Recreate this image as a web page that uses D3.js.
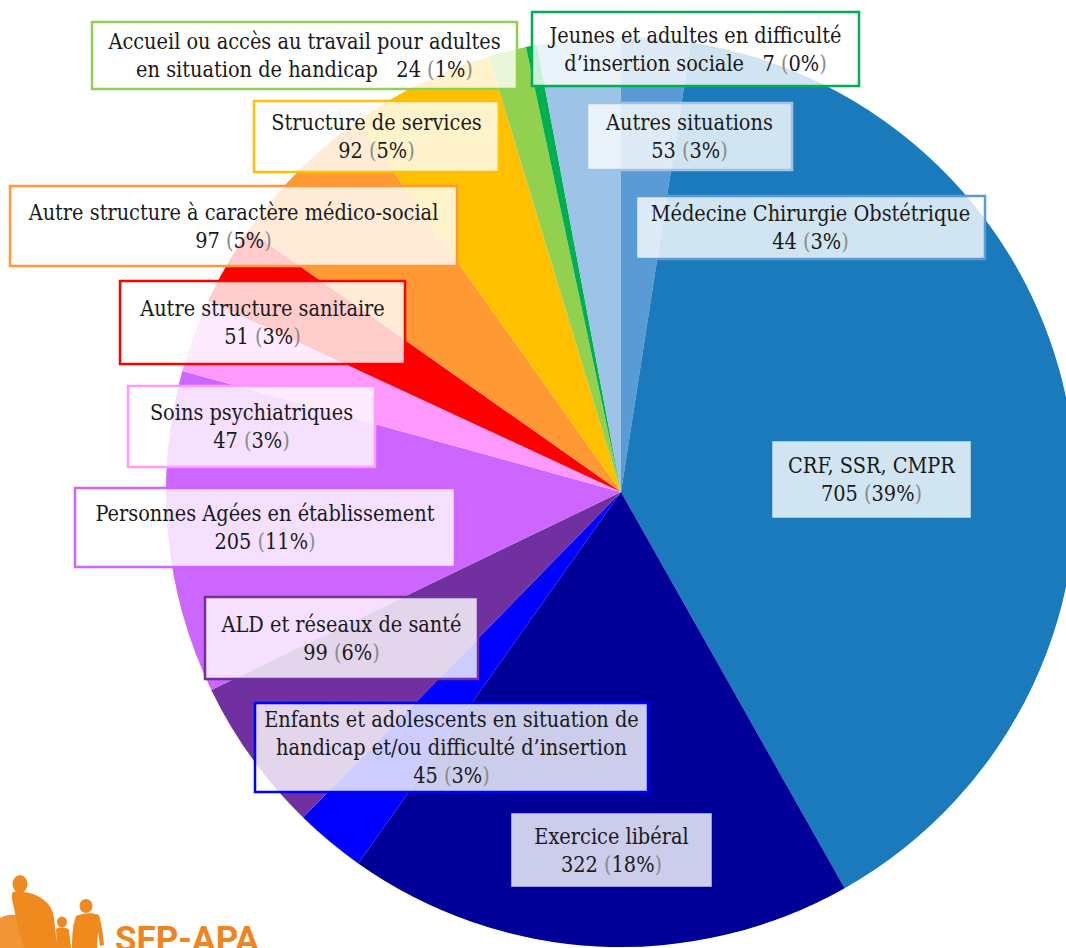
<!DOCTYPE html>
<html>
<head>
<meta charset="utf-8">
<script src="https://cdn.jsdelivr.net/npm/d3@7"></script>
<style>
  html, body { margin: 0; padding: 0; background: #fff; }
  svg { display: block; }
  text { white-space: pre; }
</style>
</head>
<body>
<script>
// ---------- data ----------
const categories = [
  "Médecine Chirurgie Obstétrique",
  "CRF, SSR, CMPR",
  "Exercice libéral",
  "Enfants et adolescents en situation de\nhandicap et/ou difficulté d’insertion",
  "ALD et réseaux de santé",
  "Personnes Agées en établissement",
  "Soins psychiatriques",
  "Autre structure sanitaire",
  "Autre structure à caractère médico-social",
  "Structure de services",
  "Accueil ou accès au travail pour adultes\nen situation de handicap",
  "Jeunes et adultes en difficulté\nd’insertion sociale",
  "Autres situations"
];
const values   = [44, 705, 322, 45, 99, 205, 47, 51, 97, 92, 24, 7, 53];
const percents = [3, 39, 18, 3, 6, 11, 3, 3, 5, 5, 1, 0, 3];
// labels whose value sits on the last text line
const inlineValue = [false, false, false, false, false, false, false, false, false, false, true, true, false];

// ---------- styles / layout ----------
const colors = ["#5B9BD5", "#1A7ABB", "#000099", "#0000FF", "#7030A0", "#CC66FF",
                "#FF99FF", "#FF0000", "#FF9933", "#FFC000", "#92D050", "#00B050", "#9DC3E6"];
// label boxes [x0, y0, x1, y1]
const labelBoxes = [
  [636, 196, 985, 259],
  [771, 440, 972, 519],
  [510, 812, 713, 888],
  [255, 703, 648, 792],
  [205, 597, 478, 679],
  [75, 488, 455, 567],
  [128, 386, 375, 467],
  [120, 281, 405, 364],
  [10, 186, 457, 266],
  [254, 101, 499, 172],
  [92, 22, 517, 89],
  [532, 12, 859, 86],
  [587, 103, 792, 170]
];

const W = 1066, H = 948;
const cx = 621, cy = 492, R = 455;
const lineH = 28;

const svg = d3.select("body").append("svg").attr("width", W).attr("height", H);

// ---------- pie ----------
const pie = d3.pie().sort(null).value(d => d.value).startAngle(0).endAngle(2 * Math.PI);
const arc = d3.arc().innerRadius(0).outerRadius(R);
const data = categories.map((c, i) => ({ name: c, value: values[i], pct: percents[i], color: colors[i], box: labelBoxes[i], inline: inlineValue[i] }));

const g = svg.append("g").attr("transform", `translate(${cx},${cy})`);
g.selectAll("path.slice").data(pie(data)).join("path")
  .attr("class", "slice")
  .attr("d", arc)
  .attr("fill", d => d.data.color);

// ---------- logo (SFP-APA) ----------
const logo = svg.append("g").attr("fill", "#EF8A1F");
logo.append("path").attr("d", "M0,918 C10,912 22,914 34,924 C42,931 48,940 50,948 L0,948 Z").attr("opacity", 0.9);
logo.append("ellipse").attr("cx", 20).attr("cy", 884).attr("rx", 7.5).attr("ry", 9);
logo.append("path").attr("d", "M13,892 C18,890 26,892 33,894 C44,898 53,906 54,918 C55,928 56,938 58,948 L24,948 C20,935 16,920 14,908 C12,900 11,895 13,892 Z");
logo.append("ellipse").attr("cx", 62).attr("cy", 922).attr("rx", 5).attr("ry", 5.5);
logo.append("path").attr("d", "M56,929 C60,927 65,927 69,930 L71,948 L57,948 Z");
logo.append("ellipse").attr("cx", 86).attr("cy", 906).attr("rx", 6.5).attr("ry", 7);
logo.append("path").attr("d", "M76,916 C82,913 92,912 99,915 C102,925 103,935 104,945 L100,946 L98,932 L97,948 L72,948 C72,935 73,924 76,916 Z");
svg.append("text").attr("x", 115).attr("y", 951)
  .attr("font-family", "Roboto, 'Open Sans', sans-serif").attr("font-weight", 700)
  .attr("font-size", 35).attr("fill", "#EE8520").text("SFP-APA");

// ---------- labels ----------
const labels = svg.append("g").attr("class", "labels");
const lab = labels.selectAll("g.label").data(data).join("g").attr("class", "label");

lab.append("rect")
  .attr("x", d => d.box[0]).attr("y", d => d.box[1])
  .attr("width", d => d.box[2] - d.box[0]).attr("height", d => d.box[3] - d.box[1])
  .attr("fill", "#fff").attr("fill-opacity", 0.8)
  .attr("stroke", d => d.color).attr("stroke-width", 2.5);

lab.each(function(d) {
  const sel = d3.select(this);
  const lines = d.name.split("\n");
  const nLines = d.inline ? lines.length : lines.length + 1;
  const mx = (d.box[0] + d.box[2]) / 2;
  const my = (d.box[1] + d.box[3]) / 2;
  const t = sel.append("text")
    .attr("text-anchor", "middle")
    .attr("font-family", "'DejaVu Serif Condensed', 'DejaVu Serif', serif")
    .attr("font-stretch", "condensed")
    .attr("font-size", 21.5)
    .attr("fill", "#1a1a1a");
  const addValue = (span) => {
    span.append("tspan").text(`${d.value} `);
    span.append("tspan").attr("fill", "#8a8a8a").text("(");
    span.append("tspan").text(`${d.pct}%`);
    span.append("tspan").attr("fill", "#8a8a8a").text(")");
  };
  lines.forEach((ln, i) => {
    const y = my + (i - (nLines - 1) / 2) * lineH;
    const tl = t.append("tspan").attr("x", mx).attr("y", y).attr("dominant-baseline", "central");
    if (d.inline && i === lines.length - 1) {
      tl.append("tspan").text(ln + "   ");
      addValue(tl);
    } else {
      tl.text(ln);
    }
  });
  if (!d.inline) {
    const y = my + (nLines - 1 - (nLines - 1) / 2) * lineH;
    const tl = t.append("tspan").attr("x", mx).attr("y", y).attr("dominant-baseline", "central");
    addValue(tl);
  }
});
</script>
</body>
</html>
